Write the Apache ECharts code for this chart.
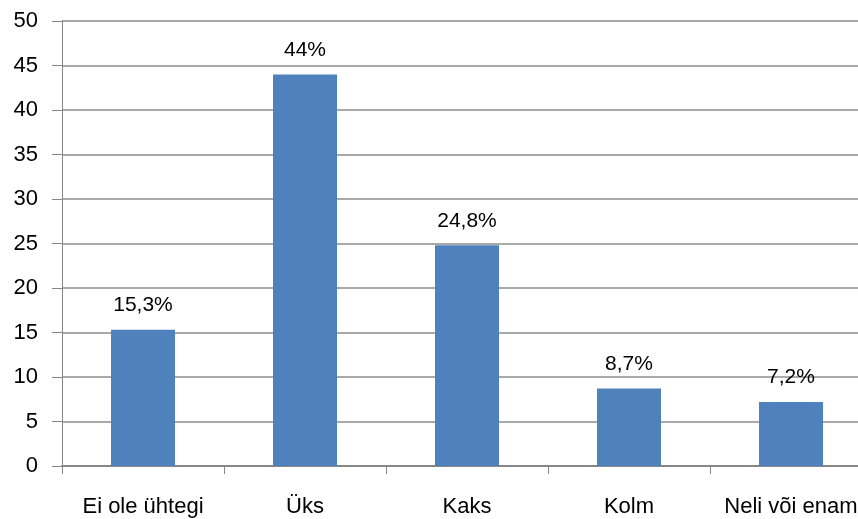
<!DOCTYPE html>
<html>
<head>
<meta charset="utf-8">
<script src="https://cdn.jsdelivr.net/npm/echarts@6/dist/echarts.min.js"></script>
<style>
  html, body { margin: 0; padding: 0; background: #fff; }
  #chart { width: 858px; height: 519px; }
</style>
</head>
<body>
<div id="chart"></div>
<script>
  // kategooriad ja väärtused
  var categories = ['Ei ole ühtegi', 'Üks', 'Kaks', 'Kolm', 'Neli või enam'];
  var values = [15.3, 44, 24.8, 8.7, 7.2];
  var valueLabels = ['15,3%', '44%', '24,8%', '8,7%', '7,2%'];

  var myChart = echarts.init(document.getElementById('chart'));
  myChart.setOption({
    animation: false,
    textStyle: { fontFamily: 'Liberation Sans' },
    // parem serv on pildist välja lõigatud
    grid: { left: 62, top: 21, width: 810, height: 445, outerBoundsMode: 'none', containLabel: false },
    xAxis: {
      type: 'category',
      data: categories,
      axisLine: { lineStyle: { color: '#868686', width: 2 } },
      axisTick: { show: true, length: 8, lineStyle: { color: '#868686', width: 1 } },
      axisLabel: { color: '#000', fontSize: 22, margin: 30, interval: 0 }
    },
    yAxis: {
      type: 'value',
      min: 0,
      max: 50,
      interval: 5,
      axisLine: { show: true, lineStyle: { color: '#868686', width: 1 } },
      axisTick: { show: true, inside: false, length: 10, lineStyle: { color: '#868686' } },
      axisLabel: { color: '#000', fontSize: 22, margin: 24 },
      splitLine: { lineStyle: { color: '#8c8c8c', width: 1.5 } }
    },
    series: [{
      type: 'bar',
      data: values,
      barWidth: '39.5%',
      itemStyle: { color: '#4f81bd' },
      label: {
        show: true,
        position: 'top',
        distance: 14,
        color: '#000',
        fontSize: 21,
        formatter: function (p) { return valueLabels[p.dataIndex]; }
      }
    }]
  });
</script>
</body>
</html>
